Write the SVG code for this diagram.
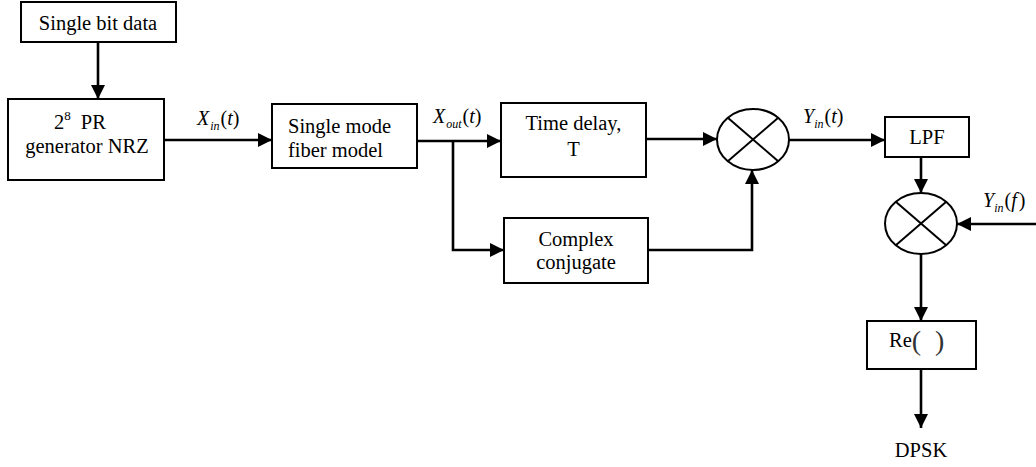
<svg xmlns="http://www.w3.org/2000/svg" width="1036" height="467" viewBox="0 0 1036 467">
  <defs>
    <style>
      .box { fill: #fff; stroke: #000; stroke-width: 2; }
      .mix { fill: #fff; stroke: #000; stroke-width: 2; }
      .xl { stroke: #000; stroke-width: 2; }
      .wire { fill: none; stroke: #000; stroke-width: 2.6; }
      .t { font-family: "Liberation Serif", "Times New Roman", serif; font-size: 20.5px; fill: #000; }
      .c { text-anchor: middle; }
      .lab { font-family: "Liberation Serif", "Times New Roman", serif; font-size: 20px; fill: #000; }
      .it { font-style: italic; }
      .sub { font-size: 12px; font-style: italic; }
    </style>
    <marker id="ah" markerUnits="userSpaceOnUse" markerWidth="16" markerHeight="16" viewBox="0 0 16 16" refX="15" refY="8" orient="auto">
      <path d="M1,1 L15,8 L1,15 Z" fill="#000"/>
    </marker>
  </defs>

  <!-- connectors -->
  <g id="connectors">
    <path class="wire" d="M98,42 V99" marker-end="url(#ah)"/>
    <path class="wire" d="M164,140 H272" marker-end="url(#ah)"/>
    <path class="wire" d="M417,141 H501" marker-end="url(#ah)"/>
    <path class="wire" d="M453,141 V250 H504" marker-end="url(#ah)"/>
    <path class="wire" d="M646,139 H717" marker-end="url(#ah)"/>
    <path class="wire" d="M648,250 H752 V170" marker-end="url(#ah)"/>
    <path class="wire" d="M789,140 H885" marker-end="url(#ah)"/>
    <path class="wire" d="M921,157 V193" marker-end="url(#ah)"/>
    <path class="wire" d="M1036,224 H957" marker-end="url(#ah)"/>
    <path class="wire" d="M921,254 V321" marker-end="url(#ah)"/>
    <path class="wire" d="M921,369 V428" marker-end="url(#ah)"/>
  </g>

  <!-- signal labels -->
  <g id="labels">
    <text class="lab" x="197" y="125"><tspan class="it">X</tspan><tspan class="sub" dx="1" dy="5">in</tspan><tspan dx="1" dy="-5">(</tspan><tspan class="it">t</tspan>)</text>
    <text class="lab" x="433" y="123"><tspan class="it">X</tspan><tspan class="sub" dx="1" dy="5">out</tspan><tspan dx="1" dy="-5">(</tspan><tspan class="it">t</tspan>)</text>
    <text class="lab" x="803" y="123"><tspan class="it">Y</tspan><tspan class="sub" dy="5">in</tspan><tspan dx="1" dy="-5">(</tspan><tspan class="it">t</tspan>)</text>
    <text class="lab" x="983" y="207"><tspan class="it">Y</tspan><tspan class="sub" dy="5">in</tspan><tspan dx="1" dy="-5">(</tspan><tspan class="it">f</tspan><tspan dx="2">)</tspan></text>
    <text class="t c" x="921" y="457">DPSK</text>
  </g>

  <g id="src">
    <rect class="box" x="21" y="2" width="155" height="40"/>
    <text class="t c" x="98" y="30">Single bit data</text>
  </g>

  <g id="prgen">
    <rect class="box" x="8" y="99" width="156" height="81"/>
    <text class="t" x="54" y="129">2<tspan font-size="13" dy="-9">8</tspan><tspan dx="10" dy="9">PR</tspan></text>
    <text class="t c" x="87" y="153">generator NRZ</text>
  </g>

  <g id="fiber">
    <rect class="box" x="272" y="104" width="145" height="64"/>
    <text class="t" x="288" y="133">Single mode</text>
    <text class="t" x="288" y="157">fiber model</text>
  </g>

  <g id="delay">
    <rect class="box" x="501" y="103" width="145" height="74"/>
    <text class="t c" x="573.5" y="130">Time delay,</text>
    <text class="t c" x="573.5" y="156">T</text>
  </g>

  <g id="conj">
    <rect class="box" x="504" y="218" width="144" height="65"/>
    <text class="t c" x="576" y="246">Complex</text>
    <text class="t c" x="576" y="269">conjugate</text>
  </g>

  <g id="mixer1">
    <ellipse class="mix" cx="753" cy="139.5" rx="36" ry="30.5"/>
    <line class="xl" x1="727.5" y1="117.5" x2="778.5" y2="161.5"/>
    <line class="xl" x1="778.5" y1="117.5" x2="727.5" y2="161.5"/>
  </g>

  <g id="lpf">
    <rect class="box" x="885" y="117" width="84" height="40"/>
    <text class="t c" x="927" y="144">LPF</text>
  </g>

  <g id="mixer2">
    <ellipse class="mix" cx="921" cy="223.5" rx="36" ry="30.5"/>
    <line class="xl" x1="895.5" y1="201.5" x2="946.5" y2="245.5"/>
    <line class="xl" x1="946.5" y1="201.5" x2="895.5" y2="245.5"/>
  </g>

  <g id="re">
    <rect class="box" x="867" y="321" width="109" height="48"/>
    <text class="t" x="889" y="347" font-size="23">Re<tspan font-size="28" fill="#333" dy="3">(</tspan><tspan font-size="28" fill="#333" dx="14">)</tspan></text>
  </g>
</svg>
